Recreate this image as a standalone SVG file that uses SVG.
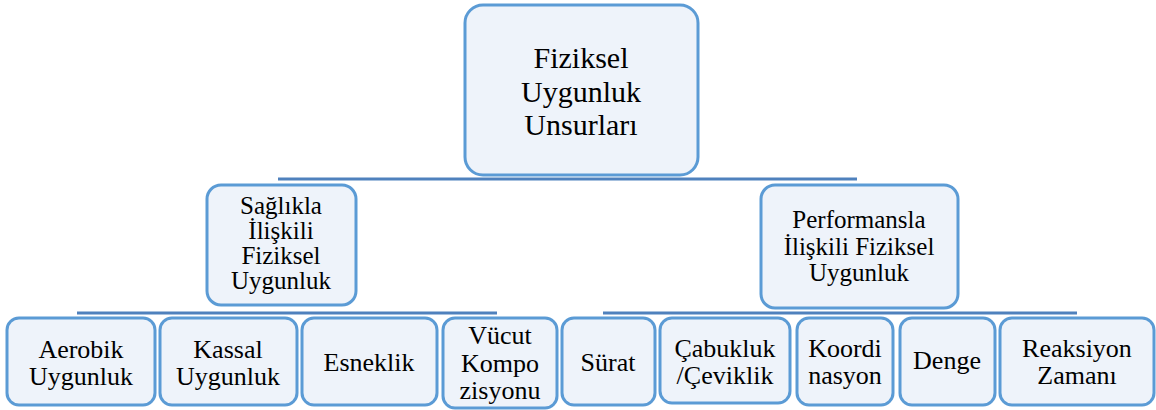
<svg xmlns="http://www.w3.org/2000/svg" width="1156" height="410" viewBox="0 0 1156 410">
<style>
.box{fill:#EEF3FA;stroke:#5B9BD5;stroke-width:3}
.c{stroke:#4F81BD;stroke-width:3;fill:none}
</style>
<rect width="1156" height="410" fill="#fff"/>
<g id="connectors">
<line class="c" x1="278" y1="179" x2="857" y2="179"/>
<line class="c" x1="77" y1="313" x2="497" y2="313"/>
<line class="c" x1="603" y1="313" x2="1077" y2="313"/>
</g>
<g id="root">
<rect class="box" x="465" y="5" width="233" height="170" rx="18"/>
<text x="581" y="68" font-family="Times New Roman, serif" font-size="30" text-anchor="middle">Fiziksel</text>
<text x="581" y="102" font-family="Times New Roman, serif" font-size="30" text-anchor="middle">Uygunluk</text>
<text x="581" y="135" font-family="Times New Roman, serif" font-size="30" text-anchor="middle">Unsurları</text>
</g>
<g id="saglik">
<rect class="box" x="207" y="185" width="149" height="120" rx="14"/>
<text x="281" y="214" font-family="Times New Roman, serif" font-size="25" text-anchor="middle">Sağlıkla</text>
<text x="281" y="239" font-family="Times New Roman, serif" font-size="25" text-anchor="middle">İlişkili</text>
<text x="281" y="264" font-family="Times New Roman, serif" font-size="25" text-anchor="middle">Fiziksel</text>
<text x="281" y="289" font-family="Times New Roman, serif" font-size="25" text-anchor="middle">Uygunluk</text>
</g>
<g id="performans">
<rect class="box" x="761" y="185" width="197" height="123" rx="14"/>
<text x="859" y="228" font-family="Times New Roman, serif" font-size="25" text-anchor="middle">Performansla</text>
<text x="859" y="255" font-family="Times New Roman, serif" font-size="25" text-anchor="middle">İlişkili Fiziksel</text>
<text x="859" y="281" font-family="Times New Roman, serif" font-size="25" text-anchor="middle">Uygunluk</text>
</g>
<g id="aerobik">
<rect class="box" x="7" y="318" width="148" height="87" rx="12"/>
<text x="81" y="358" font-family="Times New Roman, serif" font-size="26" text-anchor="middle">Aerobik</text>
<text x="81" y="385" font-family="Times New Roman, serif" font-size="26" text-anchor="middle">Uygunluk</text>
</g>
<g id="kassal">
<rect class="box" x="160" y="318" width="137" height="87" rx="12"/>
<text x="228" y="358" font-family="Times New Roman, serif" font-size="26" text-anchor="middle">Kassal</text>
<text x="228" y="385" font-family="Times New Roman, serif" font-size="26" text-anchor="middle">Uygunluk</text>
</g>
<g id="esneklik">
<rect class="box" x="302" y="318" width="135" height="87" rx="12"/>
<text x="369" y="371" font-family="Times New Roman, serif" font-size="26" text-anchor="middle">Esneklik</text>
</g>
<g id="vucut">
<rect class="box" x="443" y="318" width="114" height="90" rx="12"/>
<text x="500" y="344" font-family="Times New Roman, serif" font-size="26" text-anchor="middle">Vücut</text>
<text x="500" y="372" font-family="Times New Roman, serif" font-size="26" text-anchor="middle">Kompo</text>
<text x="500" y="399" font-family="Times New Roman, serif" font-size="26" text-anchor="middle">zisyonu</text>
</g>
<g id="surat">
<rect class="box" x="562" y="318" width="93" height="87" rx="12"/>
<text x="608" y="371" font-family="Times New Roman, serif" font-size="26" text-anchor="middle">Sürat</text>
</g>
<g id="cabukluk">
<rect class="box" x="660" y="318" width="130" height="85" rx="12"/>
<text x="725" y="357" font-family="Times New Roman, serif" font-size="26" text-anchor="middle">Çabukluk</text>
<text x="725" y="384" font-family="Times New Roman, serif" font-size="26" text-anchor="middle">/Çeviklik</text>
</g>
<g id="koordinasyon">
<rect class="box" x="797" y="318" width="96" height="87" rx="12"/>
<text x="845" y="357" font-family="Times New Roman, serif" font-size="26" text-anchor="middle">Koordi</text>
<text x="845" y="384" font-family="Times New Roman, serif" font-size="26" text-anchor="middle">nasyon</text>
</g>
<g id="denge">
<rect class="box" x="900" y="318" width="95" height="87" rx="12"/>
<text x="947" y="369" font-family="Times New Roman, serif" font-size="26" text-anchor="middle">Denge</text>
</g>
<g id="reaksiyon">
<rect class="box" x="1000" y="318" width="154" height="87" rx="12"/>
<text x="1077" y="357" font-family="Times New Roman, serif" font-size="26" text-anchor="middle">Reaksiyon</text>
<text x="1077" y="384" font-family="Times New Roman, serif" font-size="26" text-anchor="middle">Zamanı</text>
</g>
</svg>
